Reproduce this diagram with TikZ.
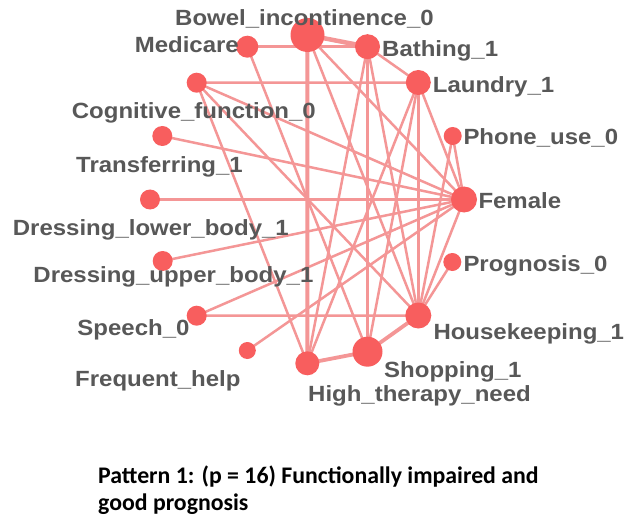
\documentclass[tikz,border=0pt]{standalone}
\usepackage{fontspec}
\setmainfont{Liberation Sans}
\newfontfamily\labfont[FakeStretch=1.09]{Liberation Sans}
\newfontfamily\capfont{Carlito}
\usetikzlibrary{backgrounds}
\definecolor{nodecol}{RGB}{248,94,94}
\definecolor{edgecol}{RGB}{244,150,150}
\definecolor{labcol}{RGB}{88,88,88}
\begin{document}
\begin{tikzpicture}[x=1pt,y=-1pt,
  vtx/.style={circle,fill=nodecol,inner sep=0pt,minimum size=#1},
  lbl/.style={text=labcol,font=\labfont\bfseries\fontsize{22}{22}\selectfont,inner sep=0pt,anchor=base west},
  link/.style={draw=edgecol,line width=2.5pt},
  heavy/.style={draw=edgecol,line width=#1},
  captxt/.style={font=\capfont\bfseries\fontsize{23.8}{28}\selectfont,inner sep=0pt,anchor=base west}]
\useasboundingbox (0,0) rectangle (625,519);

% vertices
\node[vtx=34pt] (bowel)     at (307.5,35)    {};
\node[vtx=22pt] (medicare)  at (247.3,46.7)  {};
\node[vtx=25pt] (bathing)   at (367.5,46.7)  {};
\node[vtx=25pt] (laundry)   at (418.3,82.5)  {};
\node[vtx=20pt] (cognitive) at (196.7,82.7)  {};
\node[vtx=20pt] (transfer)  at (162.3,136)   {};
\node[vtx=18pt] (phone)     at (452.7,136)   {};
\node[vtx=26pt] (female)    at (464,199.5)   {};
\node[vtx=20pt] (dlower)    at (150,199.5)   {};
\node[vtx=20pt] (dupper)    at (162.7,261)   {};
\node[vtx=18pt] (prognosis) at (452.3,262)   {};
\node[vtx=20pt] (speech)    at (196.7,315.7) {};
\node[vtx=26pt] (housekeep) at (418.3,315.5) {};
\node[vtx=17pt] (freq)      at (247.3,350.5) {};
\node[vtx=24pt] (therapy)   at (307.3,363.3) {};
\node[vtx=30pt] (shopping)  at (367.5,351.7) {};

% links, under the vertices
\begin{scope}[on background layer]
\fill[white] (0,0) rectangle (625,519);
\draw[heavy=4.5pt] (bowel.center) -- (bathing.center);
\draw[heavy=4pt]   (bowel.center) -- (therapy.center);
\draw[heavy=3.5pt] (bathing.center) -- (shopping.center);
\draw[heavy=3.8pt] (therapy.center) -- (shopping.center);
\draw[heavy=3.8pt] (shopping.center) -- (housekeep.center);
\draw[link] (medicare.center) -- (bathing.center);
\draw[link] (medicare.center) -- (shopping.center);
\draw[link] (bowel.center) -- (female.center);
\draw[link] (bowel.center) -- (housekeep.center);
\draw[link] (cognitive.center) -- (laundry.center);
\draw[link] (cognitive.center) -- (therapy.center);
\draw[link] (cognitive.center) -- (housekeep.center);
\draw[link] (cognitive.center) -- (female.center);
\draw[link] (transfer.center) -- (female.center);
\draw[link] (dlower.center) -- (female.center);
\draw[link] (dupper.center) -- (female.center);
\draw[link] (speech.center) -- (female.center);
\draw[link] (speech.center) -- (housekeep.center);
\draw[link] (freq.center) -- (female.center);
\draw[link] (bathing.center) -- (laundry.center);
\draw[link] (bathing.center) -- (therapy.center);
\draw[link] (bathing.center) -- (housekeep.center);
\draw[link] (laundry.center) -- (housekeep.center);
\draw[link] (laundry.center) -- (female.center);
\draw[link] (laundry.center) -- (therapy.center);
\draw[link] (laundry.center) -- (shopping.center);
\draw[link] (phone.center) -- (female.center);
\draw[link] (phone.center) -- (housekeep.center);
\draw[link] (female.center) -- (housekeep.center);
\draw[link] (housekeep.center) -- (prognosis.center);
\end{scope}

% labels
\node[lbl] (tbowel)     at (175,26)      {Bowel\_incontinence\_0};
\node[lbl,anchor=base east] (tmedicare) at (239,52.7) {Medicare};
\node[lbl] (tbathing)   at (382,56.7)    {Bathing\_1};
\node[lbl] (tlaundry)   at (432.7,92.3)  {Laundry\_1};
\node[lbl] (tcognitive) at (71.7,118.3)  {Cognitive\_function\_0};
\node[lbl] (tphone)     at (463.3,145)   {Phone\_use\_0};
\node[lbl] (ttransfer)  at (76,172.7)    {Transferring\_1};
\node[lbl] (tfemale)    at (478.3,208.3) {Female};
\node[lbl] (tdlower)    at (12.7,236)    {Dressing\_lower\_body\_1};
\node[lbl] (tprognosis) at (463.3,271)   {Prognosis\_0};
\node[lbl] (tdupper)    at (33.3,282.3)  {Dressing\_upper\_body\_1};
\node[lbl] (tspeech)    at (77.3,335)    {Speech\_0};
\node[lbl] (thousekeep) at (433.3,339.3) {Housekeeping\_1};
\node[lbl] (tshopping)  at (384,377.3)   {Shopping\_1};
\node[lbl] (tfreq)      at (75,386)      {Frequent\_help};
\node[lbl] (ttherapy)   at (308,401)     {High\_therapy\_need};

% caption
\node[captxt] (caption1) at (98,483) {Pattern 1: (p = 16) Functionally impaired and};
\node[captxt] (caption2) at (98,510) {good prognosis};
\end{tikzpicture}
\end{document}
